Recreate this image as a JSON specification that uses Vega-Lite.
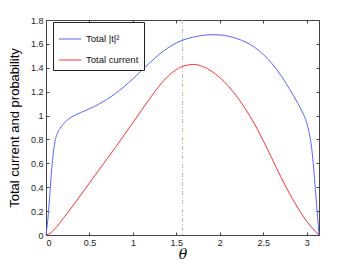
{
  "$schema": "https://vega.github.io/schema/vega-lite/v6.json",
  "width": 273,
  "height": 215,
  "autosize": "none",
  "padding": {"left": 46, "top": 20, "right": 33, "bottom": 30},
  "background": "white",
  "config": {
    "view": {"stroke": "#444", "strokeWidth": 1},
    "axis": {
      "labelFont": "Liberation Sans",
      "labelFontSize": 9,
      "labelColor": "#222",
      "titleFont": "Liberation Sans",
      "domainColor": "#444",
      "tickColor": "#444",
      "tickSize": -3,
      "grid": false
    },
    "legend": {
      "labelFont": "Liberation Sans",
      "labelFontSize": 9.5,
      "labelColor": "#111"
    }
  },
  "datasets": {
    "curves": [
      {"theta": 0, "value": 0, "series": "Total |t|²"},
      {"theta": 0.02, "value": 0.12, "series": "Total |t|²"},
      {"theta": 0.04, "value": 0.3, "series": "Total |t|²"},
      {"theta": 0.06, "value": 0.5, "series": "Total |t|²"},
      {"theta": 0.08, "value": 0.66, "series": "Total |t|²"},
      {"theta": 0.1, "value": 0.77, "series": "Total |t|²"},
      {"theta": 0.13, "value": 0.85, "series": "Total |t|²"},
      {"theta": 0.16, "value": 0.89, "series": "Total |t|²"},
      {"theta": 0.2, "value": 0.93, "series": "Total |t|²"},
      {"theta": 0.25, "value": 0.965, "series": "Total |t|²"},
      {"theta": 0.3, "value": 0.99, "series": "Total |t|²"},
      {"theta": 0.4, "value": 1.025, "series": "Total |t|²"},
      {"theta": 0.5, "value": 1.057, "series": "Total |t|²"},
      {"theta": 0.6, "value": 1.092, "series": "Total |t|²"},
      {"theta": 0.7, "value": 1.135, "series": "Total |t|²"},
      {"theta": 0.8, "value": 1.185, "series": "Total |t|²"},
      {"theta": 0.9, "value": 1.243, "series": "Total |t|²"},
      {"theta": 1.0, "value": 1.308, "series": "Total |t|²"},
      {"theta": 1.1, "value": 1.377, "series": "Total |t|²"},
      {"theta": 1.2, "value": 1.445, "series": "Total |t|²"},
      {"theta": 1.3, "value": 1.51, "series": "Total |t|²"},
      {"theta": 1.4, "value": 1.565, "series": "Total |t|²"},
      {"theta": 1.5, "value": 1.608, "series": "Total |t|²"},
      {"theta": 1.6, "value": 1.638, "series": "Total |t|²"},
      {"theta": 1.7, "value": 1.658, "series": "Total |t|²"},
      {"theta": 1.8, "value": 1.671, "series": "Total |t|²"},
      {"theta": 1.9, "value": 1.677, "series": "Total |t|²"},
      {"theta": 2.0, "value": 1.675, "series": "Total |t|²"},
      {"theta": 2.1, "value": 1.664, "series": "Total |t|²"},
      {"theta": 2.2, "value": 1.644, "series": "Total |t|²"},
      {"theta": 2.3, "value": 1.614, "series": "Total |t|²"},
      {"theta": 2.4, "value": 1.572, "series": "Total |t|²"},
      {"theta": 2.5, "value": 1.512, "series": "Total |t|²"},
      {"theta": 2.6, "value": 1.435, "series": "Total |t|²"},
      {"theta": 2.7, "value": 1.34, "series": "Total |t|²"},
      {"theta": 2.8, "value": 1.225, "series": "Total |t|²"},
      {"theta": 2.9, "value": 1.1, "series": "Total |t|²"},
      {"theta": 2.95, "value": 1.03, "series": "Total |t|²"},
      {"theta": 3.0, "value": 0.94, "series": "Total |t|²"},
      {"theta": 3.03, "value": 0.85, "series": "Total |t|²"},
      {"theta": 3.06, "value": 0.71, "series": "Total |t|²"},
      {"theta": 3.08, "value": 0.56, "series": "Total |t|²"},
      {"theta": 3.1, "value": 0.38, "series": "Total |t|²"},
      {"theta": 3.12, "value": 0.2, "series": "Total |t|²"},
      {"theta": 3.1416, "value": 0, "series": "Total |t|²"},
      {"theta": 0, "value": 0, "series": "Total current"},
      {"theta": 0.05, "value": 0.015, "series": "Total current"},
      {"theta": 0.1, "value": 0.05, "series": "Total current"},
      {"theta": 0.2, "value": 0.14, "series": "Total current"},
      {"theta": 0.3, "value": 0.235, "series": "Total current"},
      {"theta": 0.4, "value": 0.335, "series": "Total current"},
      {"theta": 0.5, "value": 0.435, "series": "Total current"},
      {"theta": 0.6, "value": 0.535, "series": "Total current"},
      {"theta": 0.7, "value": 0.635, "series": "Total current"},
      {"theta": 0.8, "value": 0.735, "series": "Total current"},
      {"theta": 0.9, "value": 0.838, "series": "Total current"},
      {"theta": 1.0, "value": 0.94, "series": "Total current"},
      {"theta": 1.1, "value": 1.045, "series": "Total current"},
      {"theta": 1.2, "value": 1.148, "series": "Total current"},
      {"theta": 1.3, "value": 1.245, "series": "Total current"},
      {"theta": 1.4, "value": 1.327, "series": "Total current"},
      {"theta": 1.5, "value": 1.385, "series": "Total current"},
      {"theta": 1.6, "value": 1.418, "series": "Total current"},
      {"theta": 1.7, "value": 1.428, "series": "Total current"},
      {"theta": 1.8, "value": 1.412, "series": "Total current"},
      {"theta": 1.9, "value": 1.374, "series": "Total current"},
      {"theta": 2.0, "value": 1.318, "series": "Total current"},
      {"theta": 2.1, "value": 1.245, "series": "Total current"},
      {"theta": 2.2, "value": 1.155, "series": "Total current"},
      {"theta": 2.3, "value": 1.05, "series": "Total current"},
      {"theta": 2.4, "value": 0.93, "series": "Total current"},
      {"theta": 2.5, "value": 0.79, "series": "Total current"},
      {"theta": 2.6, "value": 0.64, "series": "Total current"},
      {"theta": 2.7, "value": 0.49, "series": "Total current"},
      {"theta": 2.8, "value": 0.35, "series": "Total current"},
      {"theta": 2.9, "value": 0.225, "series": "Total current"},
      {"theta": 3.0, "value": 0.115, "series": "Total current"},
      {"theta": 3.1, "value": 0.03, "series": "Total current"},
      {"theta": 3.1416, "value": 0, "series": "Total current"}
    ],
    "marker": [{"theta": 1.5708}]
  },
  "resolve": {"axis": {"x": "independent", "y": "independent"}},
  "layer": [
    {
      "data": {"name": "marker"},
      "mark": {"type": "rule", "color": "#a8c8a0", "strokeDash": [4, 2, 1, 2], "strokeWidth": 1},
      "encoding": {
        "x": {"field": "theta", "type": "quantitative", "axis": null}
      }
    },
    {
      "data": {"name": "curves"},
      "mark": {"type": "line", "strokeWidth": 1, "interpolate": "monotone"},
      "encoding": {
        "x": {"field": "theta", "type": "quantitative", "scale": {"domain": [0, 3.1416], "nice": false},
          "axis": {"orient": "bottom", "values": [0, 0.5, 1, 1.5, 2, 2.5, 3], "format": "~g", "title": "θ", "titleFont": "DejaVu Serif", "titleFontStyle": "italic", "titleFontWeight": "normal", "titleFontSize": 14, "titleColor": "#000", "titlePadding": 0, "labelPadding": 6}
        },
        "y": {"field": "value", "type": "quantitative", "scale": {"domain": [0, 1.8], "nice": false},
          "axis": {"orient": "left", "values": [0, 0.2, 0.4, 0.6, 0.8, 1, 1.2, 1.4, 1.6, 1.8], "format": "~g", "title": "Total current and probability", "titleFontSize": 13, "titleFontWeight": "normal", "titleColor": "#000", "titlePadding": 9, "labelPadding": 6}
        },
        "color": {
          "field": "series", "type": "nominal",
          "scale": {"domain": ["Total |t|²", "Total current"], "range": ["#5566ff", "#ff3333"]},
          "legend": {"title": null, "orient": "none", "legendX": 7, "legendY": 2, "symbolType": "stroke", "symbolSize": 500, "symbolStrokeWidth": 1, "strokeColor": "#222", "fillColor": "white", "padding": 5, "rowPadding": 4, "labelOffset": 4}
        }
      }
    },
    {
      "data": {"name": "curves"},
      "mark": {"type": "line", "opacity": 0},
      "encoding": {
        "x": {"field": "theta", "type": "quantitative",
          "axis": {"orient": "top", "values": [0, 0.5, 1, 1.5, 2, 2.5, 3], "labels": false, "title": null}
        },
        "y": {"field": "value", "type": "quantitative",
          "axis": {"orient": "right", "values": [0, 0.2, 0.4, 0.6, 0.8, 1, 1.2, 1.4, 1.6, 1.8], "labels": false, "title": null}
        },
        "detail": {"field": "series", "type": "nominal"}
      }
    }
  ]
}
